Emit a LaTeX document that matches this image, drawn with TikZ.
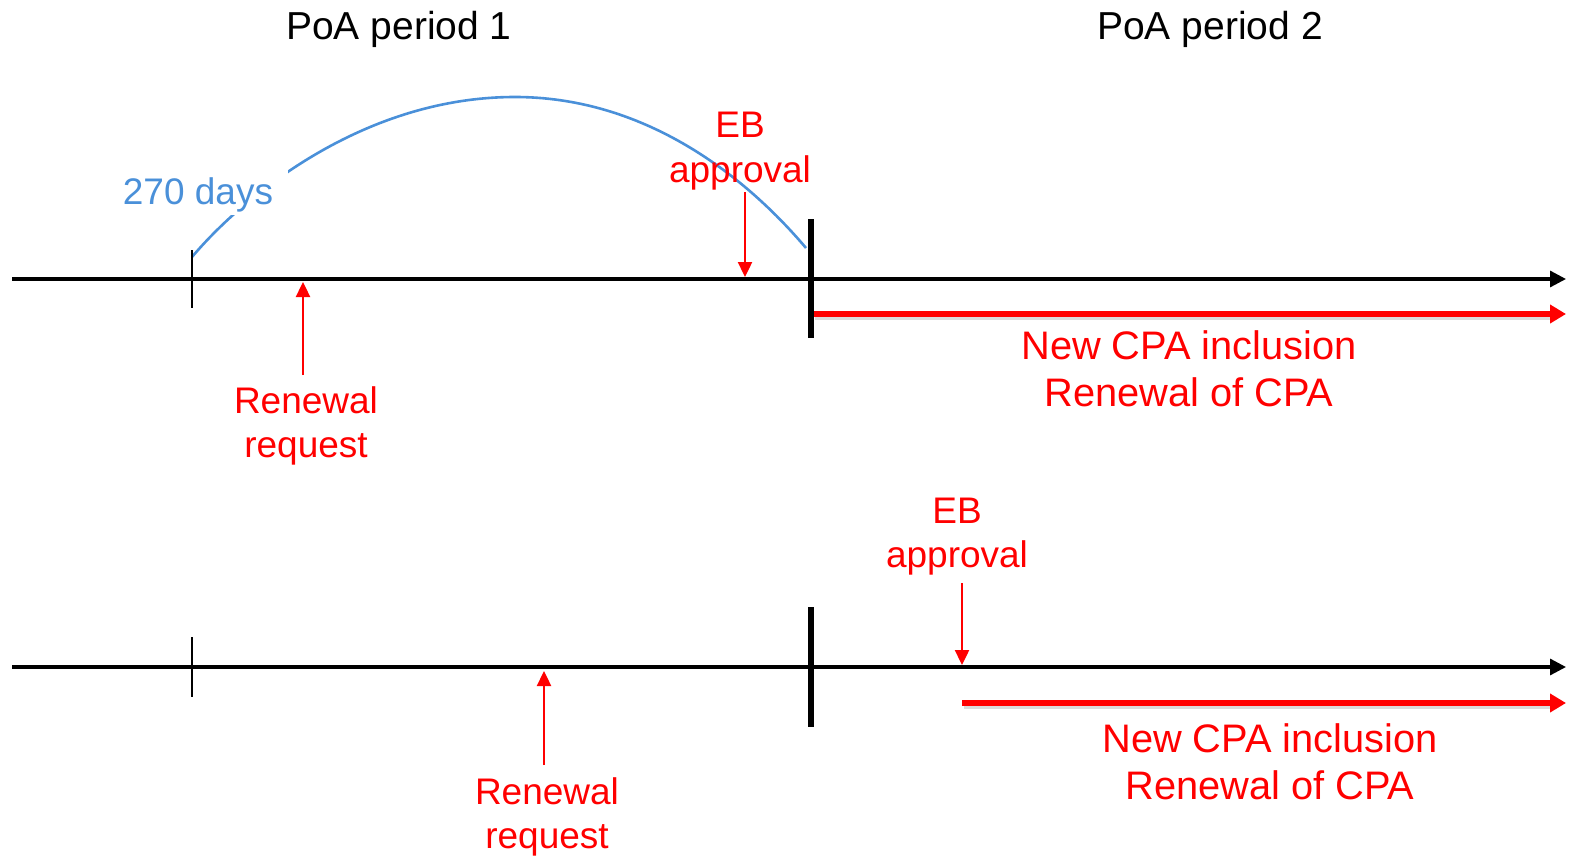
\documentclass[tikz,border=0pt]{standalone}
\usepackage{fontspec}
\setmainfont{Liberation Sans}
\usetikzlibrary{arrows.meta}
\definecolor{arcblue}{RGB}{74,144,217}
\definecolor{cpared}{RGB}{255,0,0}
\begin{document}
\begin{tikzpicture}[x=1pt,y=-1pt,
  axis/.style={line width=3.2pt, black, -{Triangle[length=16pt,width=16pt]}},
  thintick/.style={line width=2.8pt, black},
  boldtick/.style={line width=5.8pt, black},
  cpaline/.style={line width=5.6pt, cpared, -{Triangle[length=16pt,width=18pt]}},
  shadowline/.style={line width=4pt, black!14},
  evarrow/.style={line width=2.4pt, cpared, -{Triangle[length=15pt,width=14pt]}},
  period/.style={font=\fontsize{39}{46}\selectfont, anchor=base, inner sep=0pt},
  redlabel/.style={font=\fontsize{37}{44}\selectfont, text=cpared, align=center, anchor=base, inner sep=0pt},
  cpalabel/.style={font=\fontsize{39.8}{47}\selectfont, text=cpared, align=center, anchor=base, inner sep=0pt},
  daylabel/.style={font=\fontsize{37}{44}\selectfont, text=arcblue, fill=white, inner sep=0pt, text depth=0pt, minimum width=180pt, minimum height=48pt},
  arcline/.style={line width=2.6pt, arcblue},
]
\useasboundingbox (0,0) rectangle (1571,856);

% period titles
\node[period] (p1) at (399,40) {PoA period 1};
\node[period] (p2) at (1210,40) {PoA period 2};

% ---------- top timeline ----------
\coordinate (a1s) at (12,279);
\coordinate (a1e) at (1566,279);
\coordinate (t1a) at (192,250);
\coordinate (t1b) at (192,308);
\coordinate (b1a) at (811,219);
\coordinate (b1b) at (811,338);
\coordinate (c1s) at (813,314);
\coordinate (c1e) at (1566,314);
\coordinate (e1s) at (745,192);
\coordinate (e1e) at (745,277);
\coordinate (r1s) at (303,375);
\coordinate (r1e) at (303,282);
\coordinate (arcS) at (192,257);
\coordinate (arcP) at (515,97);
\coordinate (arcE) at (806,248);

\draw[arcline] (arcS) .. controls (240,200) and (360,97) .. (arcP)
                      .. controls (640,97) and (740,170) .. (arcE);
\node[daylabel] (days) at (198,191) {270 days};

\draw[axis] (a1s) -- (a1e);
\draw[thintick] (t1a) -- (t1b);
\draw[shadowline] ([yshift=-4pt,xshift=2pt]c1s) -- ([yshift=-4pt,xshift=-14pt]c1e);
\draw[cpaline] (c1s) -- (c1e);
\draw[boldtick] (b1a) -- (b1b);
\draw[evarrow] (e1s) -- (e1e);
\draw[evarrow] (r1s) -- (r1e);

\node[redlabel] (eb1) at (740,182) {EB\\approval};
\node[redlabel] (rr1) at (306,457) {Renewal\\request};
\node[cpalabel] (cpa1) at (1189,406) {New CPA inclusion\\Renewal of CPA};

% ---------- bottom timeline ----------
\coordinate (a2s) at (12,667);
\coordinate (a2e) at (1566,667);
\coordinate (t2a) at (192,637);
\coordinate (t2b) at (192,697);
\coordinate (b2a) at (811,607);
\coordinate (b2b) at (811,727);
\coordinate (c2s) at (962,703);
\coordinate (c2e) at (1566,703);
\coordinate (e2s) at (962,583);
\coordinate (e2e) at (962,665);
\coordinate (r2s) at (544,765);
\coordinate (r2e) at (544,671);

\draw[axis] (a2s) -- (a2e);
\draw[thintick] (t2a) -- (t2b);
\draw[boldtick] (b2a) -- (b2b);
\draw[shadowline] ([yshift=-4pt,xshift=2pt]c2s) -- ([yshift=-4pt,xshift=-14pt]c2e);
\draw[cpaline] (c2s) -- (c2e);
\draw[evarrow] (e2s) -- (e2e);
\draw[evarrow] (r2s) -- (r2e);

\node[redlabel] (eb2) at (957,567) {EB\\approval};
\node[redlabel] (rr2) at (547,848) {Renewal\\request};
\node[cpalabel] (cpa2) at (1270,799) {New CPA inclusion\\Renewal of CPA};
\end{tikzpicture}
\end{document}
